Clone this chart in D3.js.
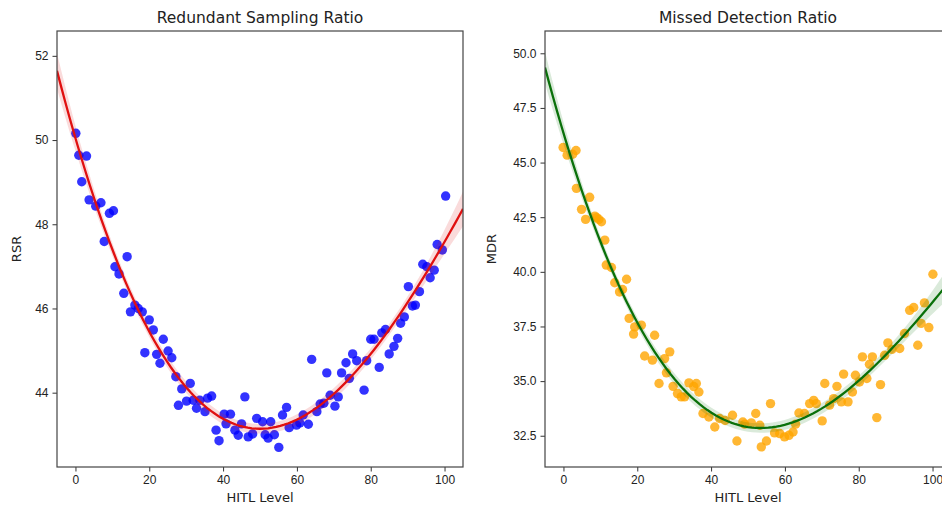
<!DOCTYPE html>
<html>
<head>
<meta charset="utf-8">
<script src="https://cdn.jsdelivr.net/npm/d3@7"></script>
<style>
  html, body { margin: 0; padding: 0; background: #fff; }
  svg { display: block; font-family: "DejaVu Sans", sans-serif; }
  .tick text { font-size: 12px; fill: #222; }
  .tick line { stroke: #333; }
  .domain { display: none; }
</style>
</head>
<body>
<svg id="chart" width="942" height="511"></svg>
<script>
// HITL level / redundant sampling ratio observations
const hitlRSR = [0.1,0.9,3.0,1.7,3.7,5.5,6.9,9.2,10.3,7.8,14.0,10.7,11.8,13.1,16.1,14.9,18.1,17.0,20.0,21.1,
  23.8,18.8,22.0,25.1,22.9,26.1,27.2,31.1,28.8,27.9,30.1,32.8,31.9,33.7,35.1,35.8,36.9,45.9,38.1,38.9,
  40.3,42.0,40.8,43.2,44.1,45.0,46.8,49.1,50.7,52.9,48.0,51.4,52.2,53.9,55.1,56.1,57.2,57.9,59.9,61.7,
  63.1,60.8,65.4,66.3,67.3,70.3,69.0,71.2,64.0,68.1,72.1,74.2,73.3,75.1,76.2,78.9,78.2,82.3,80.0,80.9,
  83.0,84.0,85.0,86.3,87.3,88.1,89.1,90.2,91.3,92.1,93.2,94.1,95.2,97.2,96.1,98.0,99.4,100.3];
const rsrValues = [50.16,49.64,49.62,49.01,48.58,48.43,48.51,48.26,48.32,47.59,47.23,46.99,46.82,46.36,46.08,45.92,45.92,46.00,45.73,45.49,
  45.27,44.95,44.91,44.99,44.70,44.83,44.38,44.22,44.09,43.70,43.80,43.63,43.82,43.82,43.55,43.87,43.92,43.90,43.11,42.86,
  43.49,43.49,43.26,43.11,42.99,43.26,42.95,43.39,43.31,43.31,43.02,43.00,42.92,43.00,42.70,43.47,43.65,43.17,43.23,43.47,
  43.25,43.28,43.55,43.73,43.75,43.68,43.94,43.90,44.79,44.47,44.47,44.34,44.71,44.92,44.76,44.76,44.06,44.60,45.27,45.27,
  45.42,45.50,44.92,45.10,45.29,45.65,45.80,46.52,46.06,46.08,46.40,47.05,46.99,46.91,46.73,47.52,47.39,48.67];

// HITL level / missed detection ratio observations
const hitlMDR = [-0.1,1.0,2.5,3.4,3.5,7.1,4.9,6.0,8.5,9.6,10.3,9.0,11.2,11.6,13.0,17.1,13.9,15.2,16.0,17.8,
  19.3,19.0,21.1,24.7,22.0,24.1,28.8,27.4,25.9,27.9,29.7,30.9,31.9,32.8,34.0,36.0,36.7,35.3,37.8,39.4,
  41.0,42.3,45.8,47.0,48.6,43.8,49.1,50.9,52.1,53.2,53.6,55.0,56.1,57.2,58.6,59.9,61.1,62.2,62.9,63.8,
  65.3,66.7,67.8,68.5,70.1,70.8,72.1,73.2,74.1,75.3,75.9,77.1,78.3,79.1,80.2,81.0,82.2,83.7,82.9,84.9,
  85.9,87.0,87.9,89.0,91.1,92.4,93.8,94.9,96.0,96.9,97.8,99.0,100.1];
const mdrValues = [45.69,45.34,45.38,45.55,43.82,43.41,42.86,42.40,42.55,42.40,42.29,42.48,41.45,40.31,40.20,39.66,39.50,39.08,39.19,37.87,
  37.48,37.15,37.56,37.10,36.15,35.96,36.34,36.03,34.89,35.38,34.76,34.43,34.28,34.28,34.92,34.89,34.50,34.75,33.52,33.36,
  32.90,33.29,33.44,32.26,33.13,33.20,33.03,33.09,33.52,32.98,31.99,32.26,33.97,32.63,32.60,32.45,32.52,32.67,33.03,33.54,
  33.52,33.97,34.12,33.97,33.18,34.89,33.90,34.20,34.76,34.05,35.32,34.05,34.50,35.27,34.96,36.11,35.12,36.11,35.77,33.33,
  34.84,36.18,36.75,36.45,36.49,37.18,38.24,38.37,36.64,37.64,38.58,37.45,39.89];

const xTicks = [0, 20, 40, 60, 80, 100];
const rsrTicks = [44, 46, 48, 50, 52];
const mdrTicks = [32.5, 35.0, 37.5, 40.0, 42.5, 45.0, 47.5, 50.0];

// Gauss-Jordan inverse of a small square matrix
function invert(m) {
  const n = m.length;
  const a = m.map((row, i) => row.concat(d3.range(n).map(j => (i === j ? 1 : 0))));
  for (let c = 0; c < n; c++) {
    let p = c;
    for (let r = c + 1; r < n; r++) if (Math.abs(a[r][c]) > Math.abs(a[p][c])) p = r;
    [a[c], a[p]] = [a[p], a[c]];
    const pv = a[c][c];
    for (let k = 0; k < 2 * n; k++) a[c][k] /= pv;
    for (let r = 0; r < n; r++) {
      if (r === c) continue;
      const f = a[r][c];
      for (let k = 0; k < 2 * n; k++) a[r][k] -= f * a[c][k];
    }
  }
  return a.map(row => row.slice(n));
}

// Polynomial least-squares fit with a 95% confidence band
function polyFit(xs, ys, order) {
  const n = xs.length, p = order + 1;
  const basis = x => d3.range(p).map(k => Math.pow(x / 100, k));
  const M = d3.range(p).map(() => new Array(p).fill(0));
  const b = new Array(p).fill(0);
  xs.forEach((xv, i) => {
    const v = basis(xv);
    for (let r = 0; r < p; r++) {
      b[r] += v[r] * ys[i];
      for (let c = 0; c < p; c++) M[r][c] += v[r] * v[c];
    }
  });
  const inv = invert(M);
  const beta = inv.map(row => d3.sum(row, (v, j) => v * b[j]));
  const fit = x => d3.sum(basis(x), (v, k) => v * beta[k]);
  const ssr = d3.sum(xs, (xv, i) => (ys[i] - fit(xv)) ** 2);
  const s2 = ssr / (n - p);
  return x => {
    const v = basis(x);
    let q = 0;
    for (let r = 0; r < p; r++) for (let c = 0; c < p; c++) q += v[r] * inv[r][c] * v[c];
    const y = fit(x), h = 1.985 * Math.sqrt(s2 * q);
    return { x, y, lo: y - h, hi: y + h };
  };
}

const svg = d3.select("#chart");

function panel(cfg) {
  const { left, right, top, bottom } = cfg.box;
  const x = d3.scaleLinear().domain([-5, 105]).range([left, right]);
  const y = d3.scaleLinear().domain(cfg.yDomain).range([bottom, top]);
  const g = svg.append("g");

  const clipId = "clip-" + cfg.id;
  g.append("clipPath").attr("id", clipId)
    .append("rect").attr("x", left).attr("y", top)
    .attr("width", right - left).attr("height", bottom - top);

  const plot = g.append("g").attr("clip-path", `url(#${clipId})`);

  const pts = cfg.xs.map((v, i) => ({ x: v, y: cfg.ys[i] }));
  plot.selectAll("circle").data(pts).join("circle")
    .attr("cx", d => x(d.x)).attr("cy", d => y(d.y))
    .attr("r", 4.7)
    .attr("fill", cfg.dotColor).attr("fill-opacity", 0.8);

  const predict = polyFit(cfg.xs, cfg.ys, 3);
  const grid = d3.range(0, 101).map(k => predict(-5 + 110 * k / 100));

  plot.append("path").datum(grid)
    .attr("d", d3.area().x(d => x(d.x)).y0(d => y(d.lo)).y1(d => y(d.hi)))
    .attr("fill", cfg.lineColor).attr("fill-opacity", 0.15);

  plot.append("path").datum(grid)
    .attr("d", d3.line().x(d => x(d.x)).y(d => y(d.y)))
    .attr("fill", "none").attr("stroke", cfg.lineColor).attr("stroke-width", 2.3);

  g.append("g").attr("transform", `translate(0,${bottom})`)
    .call(d3.axisBottom(x).tickValues(xTicks).tickSize(4.5).tickPadding(4));
  g.append("g").attr("transform", `translate(${left},0)`)
    .call(d3.axisLeft(y).tickValues(cfg.yTicks).tickFormat(cfg.yFormat).tickSize(4.5).tickPadding(4));

  g.append("rect").attr("x", left).attr("y", top)
    .attr("width", right - left).attr("height", bottom - top)
    .attr("fill", "none").attr("stroke", "#444").attr("stroke-width", 1.2);

  g.append("text").attr("x", (left + right) / 2).attr("y", 23)
    .attr("text-anchor", "middle").attr("font-size", 15.5).attr("fill", "#222")
    .text(cfg.title);
  g.append("text").attr("x", (left + right) / 2).attr("y", 502)
    .attr("text-anchor", "middle").attr("font-size", 13).attr("fill", "#222")
    .text("HITL Level");
  g.append("text")
    .attr("transform", `translate(${cfg.yLabelX},${(top + bottom) / 2}) rotate(-90)`)
    .attr("text-anchor", "middle").attr("font-size", 13).attr("fill", "#222")
    .text(cfg.yLabel);
}

panel({
  id: "rsr", box: { left: 57, right: 463, top: 31, bottom: 467 },
  yDomain: [42.235, 52.59], yTicks: rsrTicks, yFormat: d3.format("d"),
  xs: hitlRSR, ys: rsrValues, dotColor: "#0000ff", lineColor: "#e01010",
  title: "Redundant Sampling Ratio", yLabel: "RSR", yLabelX: 21
});
panel({
  id: "mdr", box: { left: 545, right: 951, top: 31, bottom: 467 },
  yDomain: [31.07, 51.02], yTicks: mdrTicks, yFormat: d3.format(".1f"),
  xs: hitlMDR, ys: mdrValues, dotColor: "#ffa500", lineColor: "#0a700a",
  title: "Missed Detection Ratio", yLabel: "MDR", yLabelX: 496
});
</script>
</body>
</html>
